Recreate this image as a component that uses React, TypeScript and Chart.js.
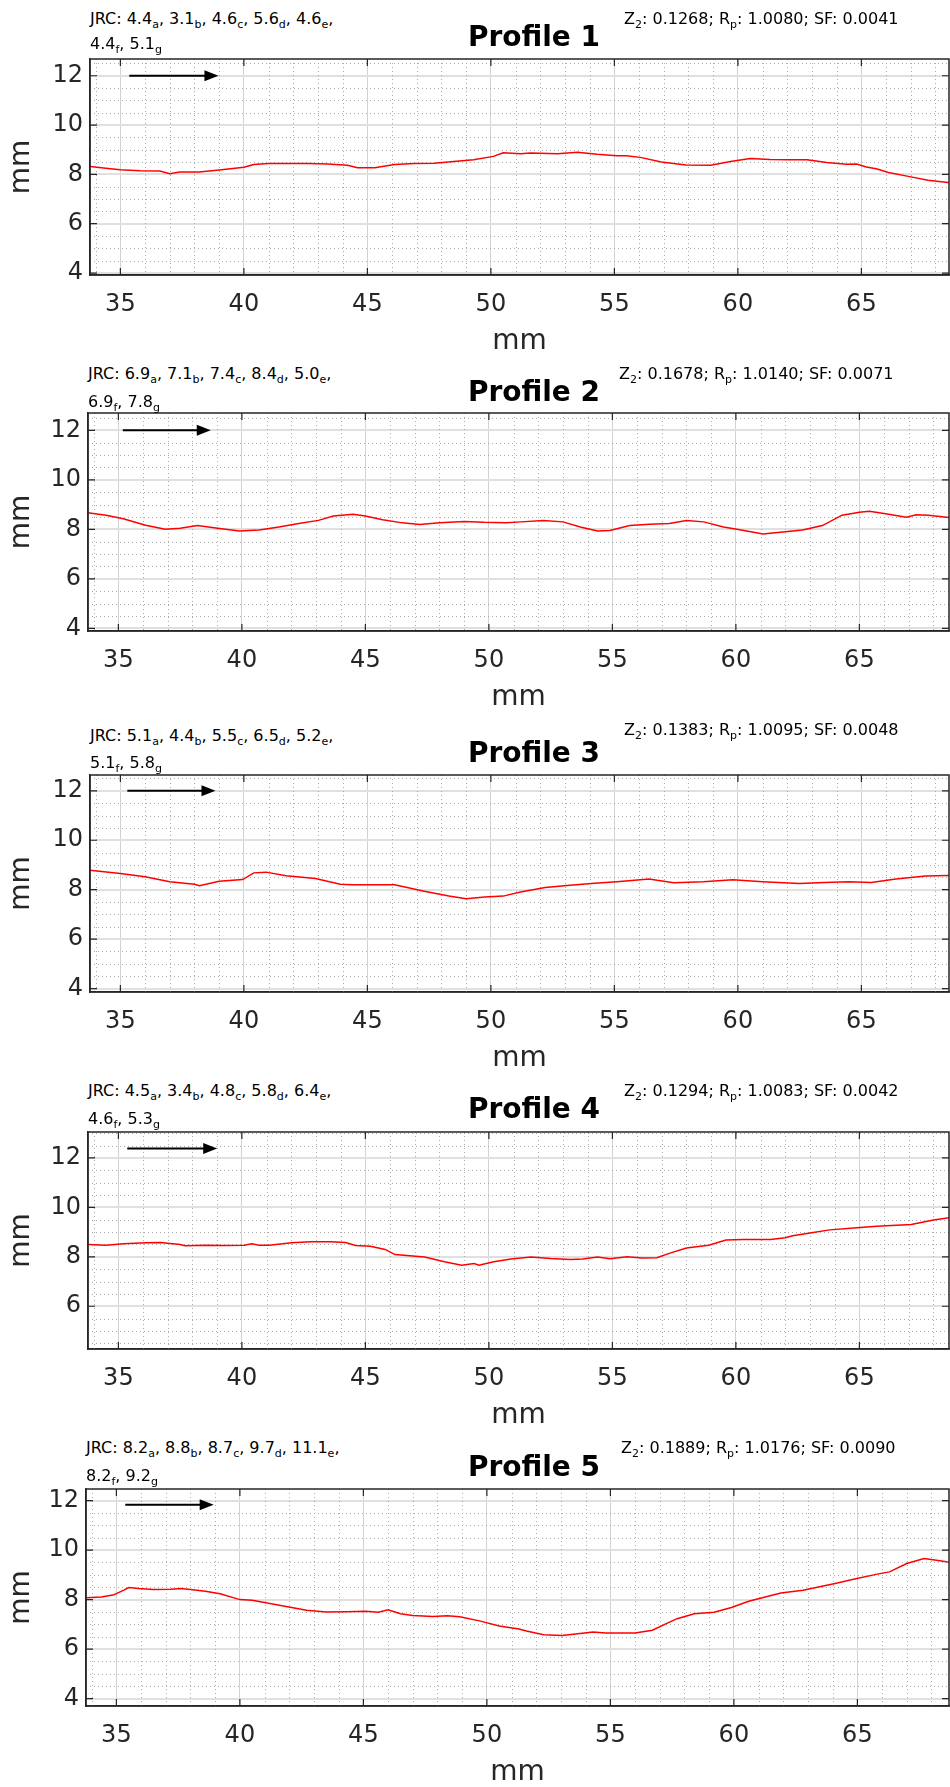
import React, { useEffect, useRef } from 'react';
import { Chart, registerables } from 'chart.js';

Chart.register(...registerables);

// ---------- tick labels / axes ----------
const X_TICKS = [35, 40, 45, 50, 55, 60, 65];
const Y_TICKS = [4, 6, 8, 10, 12];
const X_MINOR_STEP = 1;
const Y_MINOR_STEP = 0.5;
const X_MIN = 33.77;
const Y_MIN = [3.92, 3.89, 3.86, 4.27, 3.7];
const Y_MAX = [12.68, 12.7, 12.64, 13.05, 12.47];

// ---------- profile data (mm) ----------
const P1_X = [33.7, 34.6, 35.0, 35.8, 36.6, 37.0, 37.4, 38.2, 39.0, 40.0, 40.4, 41.0, 41.8, 42.6, 43.4, 44.2, 44.6, 45.3, 46.1, 46.9, 47.7, 48.5, 49.3, 50.1, 50.5, 51.2, 51.6, 52.7, 53.5, 54.3, 55.1, 55.5, 56.1, 56.9, 57.9, 58.9, 59.7, 60.5, 61.3, 62.1, 62.8, 63.6, 64.4, 64.8, 65.2, 65.6, 66.1, 66.9, 67.7, 68.5, 69.0];
const P1_Y = [8.33, 8.23, 8.19, 8.15, 8.14, 8.03, 8.1, 8.1, 8.18, 8.29, 8.4, 8.44, 8.44, 8.44, 8.42, 8.37, 8.27, 8.27, 8.4, 8.44, 8.45, 8.52, 8.59, 8.73, 8.88, 8.84, 8.87, 8.84, 8.9, 8.82, 8.76, 8.76, 8.68, 8.5, 8.38, 8.37, 8.52, 8.64, 8.6, 8.59, 8.59, 8.48, 8.41, 8.42, 8.3, 8.23, 8.08, 7.92, 7.76, 7.67, 7.64];

const P2_X = [33.7, 34.5, 35.2, 36.1, 36.9, 37.5, 38.2, 39.1, 39.9, 40.7, 41.5, 42.3, 43.1, 43.7, 44.5, 45.0, 45.7, 46.5, 47.2, 48.0, 49.0, 49.8, 50.7, 51.3, 52.2, 53.0, 53.7, 54.4, 54.9, 55.7, 56.5, 57.3, 58.0, 58.7, 59.5, 60.1, 61.1, 61.9, 62.7, 63.5, 64.3, 65.0, 65.4, 66.0, 66.9, 67.3, 67.8, 68.7, 69.0];
const P2_Y = [8.68, 8.57, 8.43, 8.16, 8.0, 8.04, 8.15, 8.03, 7.93, 7.97, 8.09, 8.23, 8.36, 8.54, 8.61, 8.54, 8.39, 8.26, 8.19, 8.26, 8.32, 8.28, 8.26, 8.3, 8.36, 8.3, 8.09, 7.93, 7.95, 8.15, 8.2, 8.23, 8.36, 8.3, 8.09, 7.99, 7.81, 7.89, 7.97, 8.15, 8.57, 8.69, 8.73, 8.64, 8.49, 8.59, 8.57, 8.47, 8.47];

const P3_X = [33.7, 35.0, 36.0, 37.0, 38.0, 38.2, 39.0, 39.95, 40.4, 40.9, 41.7, 42.9, 43.9, 44.4, 46.1, 47.3, 48.3, 49.0, 49.75, 50.5, 51.2, 52.2, 53.2, 54.2, 55.1, 56.4, 57.4, 58.6, 59.8, 61.0, 62.5, 63.5, 64.5, 65.4, 66.4, 67.6, 68.5, 69.0];
const P3_Y = [8.79, 8.65, 8.52, 8.32, 8.22, 8.16, 8.34, 8.41, 8.68, 8.71, 8.56, 8.45, 8.22, 8.2, 8.2, 7.94, 7.74, 7.63, 7.7, 7.74, 7.91, 8.09, 8.18, 8.26, 8.32, 8.43, 8.28, 8.32, 8.4, 8.32, 8.25, 8.29, 8.32, 8.29, 8.43, 8.55, 8.57, 8.58];

const P4_X = [33.7, 34.5, 35.2, 36.1, 36.7, 37.5, 37.7, 38.5, 39.3, 40.1, 40.4, 40.7, 41.1, 42.0, 42.8, 43.6, 44.2, 44.6, 45.2, 45.8, 46.2, 46.8, 47.4, 48.2, 48.9, 49.4, 49.6, 50.2, 50.9, 51.7, 52.5, 53.3, 53.8, 54.4, 54.9, 55.6, 56.2, 56.8, 57.3, 58.0, 58.9, 59.6, 60.3, 61.4, 62.0, 62.3, 63.0, 63.8, 64.9, 65.7, 67.1, 67.5, 68.0, 68.7, 69.0];
const P4_Y = [8.5, 8.47, 8.53, 8.57, 8.58, 8.5, 8.45, 8.47, 8.46, 8.47, 8.53, 8.47, 8.47, 8.57, 8.61, 8.61, 8.58, 8.46, 8.43, 8.3, 8.09, 8.04, 7.99, 7.8, 7.66, 7.73, 7.66, 7.8, 7.91, 7.99, 7.93, 7.89, 7.91, 7.99, 7.92, 8.0, 7.95, 7.96, 8.14, 8.36, 8.47, 8.68, 8.7, 8.7, 8.77, 8.85, 8.96, 9.09, 9.18, 9.24, 9.31, 9.39, 9.49, 9.59, 9.63];

const P5_X = [33.7, 34.4, 34.9, 35.0, 35.3, 35.5, 35.9, 36.5, 37.2, 37.6, 38.0, 38.6, 39.2, 40.0, 40.5, 41.6, 42.7, 43.5, 44.3, 45.1, 45.6, 46.0, 46.5, 47.0, 47.8, 48.4, 48.9, 49.7, 50.5, 51.3, 51.6, 52.3, 53.05, 54.3, 54.8, 56.0, 56.7, 57.2, 57.7, 58.4, 59.2, 59.9, 60.6, 61.9, 62.8, 64.1, 64.8, 65.8, 66.3, 67.0, 67.7, 68.2, 68.6, 69.0];
const P5_Y = [8.07, 8.11, 8.2, 8.24, 8.38, 8.49, 8.45, 8.41, 8.42, 8.45, 8.41, 8.34, 8.24, 8.0, 7.97, 7.77, 7.57, 7.5, 7.51, 7.53, 7.49, 7.59, 7.43, 7.36, 7.32, 7.35, 7.31, 7.14, 6.93, 6.81, 6.73, 6.58, 6.55, 6.69, 6.65, 6.65, 6.76, 7.0, 7.23, 7.43, 7.49, 7.68, 7.93, 8.27, 8.38, 8.65, 8.81, 9.03, 9.12, 9.46, 9.66, 9.59, 9.53, 9.5];

// ---------- annotations ----------
const PROFILE_NAMES = ['Profile 1', 'Profile 2', 'Profile 3', 'Profile 4', 'Profile 5'];
const JRC_LETTERS = ['a', 'b', 'c', 'd', 'e', 'f', 'g'];
const JRC_1 = [4.4, 3.1, 4.6, 5.6, 4.6, 4.4, 5.1];
const JRC_2 = [6.9, 7.1, 7.4, 8.4, 5.0, 6.9, 7.8];
const JRC_3 = [5.1, 4.4, 5.5, 6.5, 5.2, 5.1, 5.8];
const JRC_4 = [4.5, 3.4, 4.8, 5.8, 6.4, 4.6, 5.3];
const JRC_5 = [8.2, 8.8, 8.7, 9.7, 11.1, 8.2, 9.2];
const Z2 = [0.1268, 0.1678, 0.1383, 0.1294, 0.1889];
const RP = [1.008, 1.014, 1.0095, 1.0083, 1.0176];
const SF = [0.0041, 0.0071, 0.0048, 0.0042, 0.009];

// direction arrow (data units)
const ARROW_X0 = [35.36, 35.18, 35.28, 35.36, 35.36];
const ARROW_X1 = [38.97, 38.74, 38.85, 39.0, 38.94];
const ARROW_Y = [12, 12, 12, 12.38, 11.83];

const SERIES_X = [P1_X, P2_X, P3_X, P4_X, P5_X];
const SERIES_Y = [P1_Y, P2_Y, P3_Y, P4_Y, P5_Y];
const JRC = [JRC_1, JRC_2, JRC_3, JRC_4, JRC_5];

// ---------- layout (pixels) ----------
const PANEL_LEFT = [90, 88, 90, 88, 86];
const PANEL_TOP = [59, 413, 775, 1132, 1489];
const JRC1_DY = [-40.1, -39.1, -39.8, -41.5, -41.8];
const JRC2_DY = [-15.1, -11.6, -12.5, -13.2, -13.8];
const TITLE_DY = [-22.6, -21.6, -22.3, -23.7, -22.3];
const STATS_DY = [-40, -39.1, -45.7, -41.5, -41.8];
const STATS_LEFT = [624, 619, 624, 624, 621];

const FONT = 'DejaVu Sans';
const AX = '#262626';
const PX_PER_UNIT = 24.7;
const PAD = 24;
const XAXIS_H = 84;
const TICK_LEN = 7;

function makeDecor(i: number) {
  return {
    id: 'decor' + i,
    beforeDatasetsDraw(chart: any) {
      const { ctx, chartArea: a, scales } = chart;
      const x = scales.x;
      const y = scales.y;
      ctx.save();
      ctx.beginPath();
      ctx.rect(a.left, a.top, a.right - a.left, a.bottom - a.top);
      ctx.clip();
      ctx.strokeStyle = '#ababab';
      ctx.lineWidth = 1;
      ctx.setLineDash([1, 3]);
      ctx.beginPath();
      for (let v = Math.ceil(x.min); v <= x.max; v += X_MINOR_STEP) {
        if (X_TICKS.includes(v)) continue;
        const px = Math.round(x.getPixelForValue(v)) + 0.5;
        ctx.moveTo(px, a.top);
        ctx.lineTo(px, a.bottom);
      }
      for (let v = Math.ceil(y.min / Y_MINOR_STEP) * Y_MINOR_STEP; v <= y.max; v += Y_MINOR_STEP) {
        if (Y_TICKS.some((t) => Math.abs(t - v) < 1e-6)) continue;
        const py = Math.round(y.getPixelForValue(v)) + 0.5;
        ctx.moveTo(a.left, py);
        ctx.lineTo(a.right, py);
      }
      ctx.stroke();
      ctx.restore();
    },
    afterDatasetsDraw(chart: any) {
      const { ctx, chartArea: a, scales } = chart;
      const x = scales.x;
      const y = scales.y;
      ctx.save();
      ctx.setLineDash([]);
      ctx.strokeStyle = AX;
      ctx.lineWidth = 1.5;
      ctx.strokeRect(a.left, a.top, a.right - a.left, a.bottom - a.top);
      ctx.lineWidth = 1.2;
      ctx.beginPath();
      for (const v of X_TICKS) {
        const px = x.getPixelForValue(v);
        ctx.moveTo(px, a.bottom);
        ctx.lineTo(px, a.bottom - TICK_LEN);
        ctx.moveTo(px, a.top);
        ctx.lineTo(px, a.top + TICK_LEN);
      }
      for (const v of Y_TICKS) {
        if (v < y.min || v > y.max) continue;
        const py = y.getPixelForValue(v);
        ctx.moveTo(a.left, py);
        ctx.lineTo(a.left + TICK_LEN, py);
        ctx.moveTo(a.right, py);
        ctx.lineTo(a.right - TICK_LEN, py);
      }
      ctx.stroke();
      // direction arrow
      const ax0 = x.getPixelForValue(ARROW_X0[i]);
      const ax1 = x.getPixelForValue(ARROW_X1[i]);
      const ay = y.getPixelForValue(ARROW_Y[i]);
      ctx.strokeStyle = '#000';
      ctx.fillStyle = '#000';
      ctx.lineWidth = 2;
      ctx.beginPath();
      ctx.moveTo(ax0, ay);
      ctx.lineTo(ax1 - 10, ay);
      ctx.stroke();
      ctx.beginPath();
      ctx.moveTo(ax1, ay);
      ctx.lineTo(ax1 - 14, ay - 5.5);
      ctx.lineTo(ax1 - 14, ay + 5.5);
      ctx.closePath();
      ctx.fill();
      ctx.restore();
    },
  };
}

function Panel({ i }: { i: number }) {
  const ref = useRef<HTMLCanvasElement>(null);
  const L = PANEL_LEFT[i];
  const plotH = Math.round((Y_MAX[i] - Y_MIN[i]) * PX_PER_UNIT);
  const H = PAD + plotH + XAXIS_H;
  const xMax = X_MIN + (949 - L) / PX_PER_UNIT;
  useEffect(() => {
    const xs = SERIES_X[i];
    const ys = SERIES_Y[i];
    const chart = new Chart(ref.current as HTMLCanvasElement, {
      type: 'line',
      data: {
        datasets: [
          {
            data: xs.map((v, k) => ({ x: v, y: ys[k] })),
            borderColor: '#ff0000',
            borderWidth: 1.5,
            pointRadius: 0,
            tension: 0,
            fill: false,
            clip: 0,
          } as any,
        ],
      },
      options: {
        responsive: false,
        animation: false,
        devicePixelRatio: 1,
        layout: { padding: { top: PAD, left: 0, right: 1, bottom: 0 } },
        plugins: { legend: { display: false }, tooltip: { enabled: false } },
        scales: {
          x: {
            type: 'linear',
            min: X_MIN,
            max: xMax,
            afterBuildTicks: (s: any) => {
              s.ticks = X_TICKS.map((v) => ({ value: v }));
            },
            afterFit: (s: any) => {
              s.height = XAXIS_H;
            },
            ticks: { font: { family: FONT, size: 24 }, color: AX, padding: 15, maxRotation: 0, autoSkip: false },
            grid: { color: '#d2d2d2', lineWidth: 1, drawTicks: false },
            border: { display: true, color: AX, width: 1.5 },
            title: { display: true, text: 'mm', font: { family: FONT, size: 28 }, color: AX, padding: 0 },
          },
          y: {
            type: 'linear',
            min: Y_MIN[i],
            max: Y_MAX[i],
            afterBuildTicks: (s: any) => {
              s.ticks = Y_TICKS.filter((v) => v >= Y_MIN[i] && v <= Y_MAX[i]).map((v) => ({ value: v }));
            },
            afterFit: (s: any) => {
              s.width = L;
            },
            ticks: { font: { family: FONT, size: 24 }, color: AX, padding: 7, autoSkip: false },
            grid: { color: '#e0e0e0', lineWidth: 2, drawTicks: false },
            border: { display: true, color: AX, width: 1.5 },
            title: { display: true, text: 'mm', font: { family: FONT, size: 28 }, color: AX, padding: { top: 5, bottom: 0 } },
          },
        },
      } as any,
      plugins: [makeDecor(i)],
    });
    return () => chart.destroy();
  }, []);
  return (
    <canvas
      ref={ref}
      width={950}
      height={H}
      style={{ position: 'absolute', left: 0, top: PANEL_TOP[i] - PAD, width: 950, height: H }}
    />
  );
}

function Sub({ c }: { c: string }) {
  return <sub style={{ fontSize: 11, lineHeight: 0, verticalAlign: -4 }}>{c}</sub>;
}

function Annot({ i }: { i: number }) {
  const L = PANEL_LEFT[i];
  const T = PANEL_TOP[i];
  const vals = JRC[i];
  const lineStyle: React.CSSProperties = {
    position: 'absolute',
    whiteSpace: 'nowrap',
    fontSize: 16,
    lineHeight: '20px',
    color: '#000',
    fontFamily: '"DejaVu Sans", sans-serif',
  };
  const item = (k: number) => (
    <React.Fragment key={k}>
      {vals[k].toFixed(1)}
      <Sub c={JRC_LETTERS[k]} />
    </React.Fragment>
  );
  const first = [0, 1, 2, 3, 4];
  const second = [5, 6];
  return (
    <>
      <div style={{ ...lineStyle, left: L, top: T + JRC1_DY[i] - 9.7 }}>
        {'JRC: '}
        {first.map((k, n) => (
          <React.Fragment key={k}>
            {item(k)}
            {n < first.length - 1 ? ', ' : ','}
          </React.Fragment>
        ))}
      </div>
      <div style={{ ...lineStyle, left: L, top: T + JRC2_DY[i] - 9.7 }}>
        {second.map((k, n) => (
          <React.Fragment key={k}>
            {item(k)}
            {n < second.length - 1 ? ', ' : ''}
          </React.Fragment>
        ))}
      </div>
      <div
        style={{
          position: 'absolute',
          left: 334,
          width: 400,
          textAlign: 'center',
          top: T + TITLE_DY[i] - 16.5,
          fontSize: 28,
          fontWeight: 'bold',
          lineHeight: '34px',
          color: '#000',
          fontFamily: '"DejaVu Sans", sans-serif',
        }}
      >
        {PROFILE_NAMES[i]}
      </div>
      <div style={{ ...lineStyle, left: STATS_LEFT[i], top: T + STATS_DY[i] - 9.7 }}>
        Z<Sub c="2" />: {Z2[i].toFixed(4)}; R<Sub c="p" />: {RP[i].toFixed(4)}; SF: {SF[i].toFixed(4)}
      </div>
    </>
  );
}

export default function App() {
  return (
    <div
      style={{
        position: 'absolute',
        left: 0,
        top: 0,
        width: 950,
        height: 1787,
        overflow: 'hidden',
        background: '#fff',
      }}
    >
      {[0, 1, 2, 3, 4].map((i) => (
        <React.Fragment key={i}>
          <Panel i={i} />
          <Annot i={i} />
        </React.Fragment>
      ))}
    </div>
  );
}
